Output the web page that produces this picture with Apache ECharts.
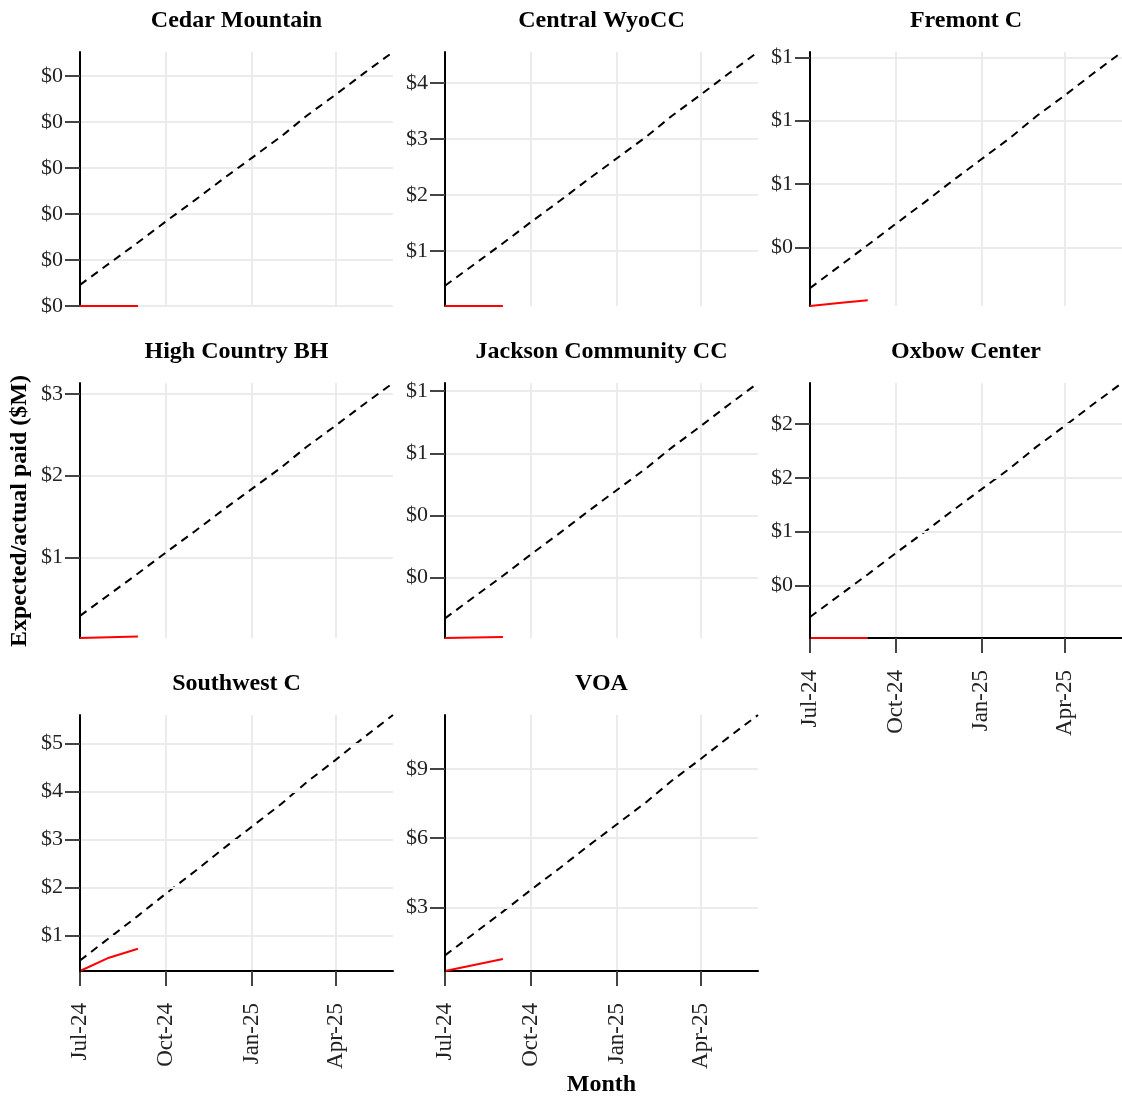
<!DOCTYPE html>
<html>
<head>
<meta charset="utf-8">
<script src="https://cdn.jsdelivr.net/npm/echarts@6/dist/echarts.min.js"></script>
<style>html,body{margin:0;padding:0;background:#fff;}</style>
</head>
<body>
<div id="main" style="width:1122px;height:1099px;"></div>
<script type="text/javascript">
var colleges = ['Cedar Mountain', 'Central WyoCC', 'Fremont C', 'High Country BH',
    'Jackson Community CC', 'Oxbow Center', 'Southwest C', 'VOA'];
var months = ['2024-07-01', '2024-08-01', '2024-09-01', '2024-10-01', '2024-11-01', '2024-12-01',
    '2025-01-01', '2025-02-01', '2025-03-01', '2025-04-01', '2025-05-01', '2025-06-01'];
var actualMonths = ['2024-07-01', '2024-08-01', '2024-09-01'];
var tickMonths = ['2024-07-01', '2024-10-01', '2025-01-01', '2025-04-01'];
var monthNames = ['Jan', 'Feb', 'Mar', 'Apr', 'May', 'Jun', 'Jul', 'Aug', 'Sep', 'Oct', 'Nov', 'Dec'];

// cumulative expected / actual paid, $M
var cedarExpected = [0.0092, 0.0184, 0.0276, 0.0368, 0.046, 0.0552, 0.0644, 0.0736, 0.0828, 0.092, 0.1012, 0.1104];
var cedarActual = [0, 0, 0];
var cedarTicks = [0, 0.02, 0.04, 0.06, 0.08, 0.1];

var wyoExpected = [0.379, 0.759, 1.138, 1.518, 1.897, 2.277, 2.656, 3.036, 3.415, 3.795, 4.174, 4.554];
var wyoActual = [0.018, 0.018, 0.019];
var wyoTicks = [1, 2, 3, 4];

var fremontExpected = [0.271, 0.339, 0.407, 0.474, 0.542, 0.61, 0.678, 0.746, 0.814, 0.881, 0.949, 1.017];
var fremontActual = [0.2145, 0.224, 0.233];
var fremontTicks = [0.4, 0.6, 0.8, 1.0];

var highExpected = [0.285, 0.544, 0.803, 1.061, 1.32, 1.579, 1.837, 2.096, 2.355, 2.614, 2.872, 3.131];
var highActual = [0.015, 0.025, 0.034];
var highTicks = [1, 2, 3];

var jacksonExpected = [0.069, 0.138, 0.206, 0.275, 0.344, 0.413, 0.482, 0.551, 0.619, 0.688, 0.757, 0.826];
var jacksonActual = [0.006, 0.008, 0.009];
var jacksonTicks = [0.2, 0.4, 0.6, 0.8];

var oxbowExpected = [0.205, 0.403, 0.601, 0.798, 0.996, 1.194, 1.392, 1.59, 1.787, 1.985, 2.183, 2.381];
var oxbowActual = [0.01, 0.01, 0.011];
var oxbowTicks = [0.5, 1, 1.5, 2];

var southwestExpected = [0.475, 0.94, 1.405, 1.87, 2.335, 2.8, 3.265, 3.73, 4.195, 4.66, 5.125, 5.59];
var southwestActual = [0.256, 0.533, 0.72];
var southwestTicks = [1, 2, 3, 4, 5];

var voaExpected = [0.943, 1.887, 2.83, 3.773, 4.717, 5.66, 6.603, 7.547, 8.49, 9.433, 10.377, 11.32];
var voaActual = [0.268, 0.53, 0.785];
var voaTicks = [3, 6, 9];

var expected = [cedarExpected, wyoExpected, fremontExpected, highExpected, jacksonExpected, oxbowExpected, southwestExpected, voaExpected];
var actual = [cedarActual, wyoActual, fremontActual, highActual, jacksonActual, oxbowActual, southwestActual, voaActual];
var yTicks = [cedarTicks, wyoTicks, fremontTicks, highTicks, jacksonTicks, oxbowTicks, southwestTicks, voaTicks];

// panel layout
var colLeft = [80, 445, 810];
var colWidth = [313, 313, 312];
var rowTop = [52, 383, 715];
var rowHeight = [254, 255, 256];
var bottomPanels = [5, 6, 7];

var serif = '"Liberation Serif", "Times New Roman", serif';

function toTime(s) {
    return +new Date(s + 'T00:00:00');
}
function dollars(v) {
    // round half to even, like the source labels ($0.5 -> $0, $1.5 -> $2)
    var f = Math.floor(v), d = v - f, r;
    if (Math.abs(d - 0.5) < 1e-9) r = (f % 2 === 0) ? f : f + 1;
    else r = Math.round(v);
    return '$' + r;
}
function monthLabel(v) {
    var d = new Date(v);
    return monthNames[d.getMonth()] + '-' + String(d.getFullYear()).slice(2);
}
function pairs(xs, ys) {
    return ys.map(function (y, k) { return [toTime(xs[k]), y]; });
}

var xTicks = tickMonths.map(toTime);
var chart = echarts.init(document.getElementById('main'));
var grids = [], xAxes = [], yAxes = [], series = [], graphics = [];

colleges.forEach(function (name, i) {
    var row = Math.floor(i / 3), col = i % 3;
    var isBottom = bottomPanels.indexOf(i) >= 0;
    grids.push({
        left: colLeft[col], top: rowTop[row], width: colWidth[col], height: rowHeight[row],
        containLabel: false, outerBoundsMode: 'none'
    });
    xAxes.push({
        type: 'value', gridIndex: i, min: toTime(months[0]), max: toTime(months[months.length - 1]),
        z: isBottom ? 3 : 0,
        axisLine: { show: isBottom, onZero: false, lineStyle: { color: '#000', width: 2 } },
        axisTick: { show: isBottom, customValues: xTicks, length: 15, lineStyle: { color: '#444', width: 2 } },
        axisLabel: {
            show: isBottom, customValues: xTicks, rotate: 90, margin: 32,
            formatter: monthLabel, fontFamily: serif, fontSize: 23, color: '#222'
        },
        splitLine: { show: true, lineStyle: { color: '#ebebeb', width: 2 } }
    });
    yAxes.push({
        type: 'value', gridIndex: i, min: 'dataMin', max: 'dataMax', scale: true,
        z: isBottom ? 4 : 0,
        axisLine: { show: true, onZero: false, lineStyle: { color: '#000', width: 2 } },
        axisTick: { show: true, customValues: yTicks[i], length: 15, lineStyle: { color: '#444', width: 2 } },
        axisLabel: {
            customValues: yTicks[i], margin: 17, formatter: dollars,
            fontFamily: serif, fontSize: 22, color: '#222'
        },
        splitLine: { show: true, lineStyle: { color: '#ebebeb', width: 2 } }
    });
    series.push({
        name: name + ' expected', type: 'line', xAxisIndex: i, yAxisIndex: i,
        data: pairs(months, expected[i]), showSymbol: false, silent: true,
        lineStyle: { color: '#000', width: 2, type: [8, 6] }
    });
    series.push({
        name: name + ' actual', type: 'line', xAxisIndex: i, yAxisIndex: i,
        data: pairs(actualMonths, actual[i]), showSymbol: false, silent: true,
        lineStyle: { color: '#ff0000', width: 2 }
    });
    graphics.push({
        type: 'text', x: colLeft[col] + colWidth[col] / 2, y: rowTop[row] - 31.5,
        style: { text: name, align: 'center', verticalAlign: 'middle', font: 'bold 24px ' + serif, fill: '#000' }
    });
});

graphics.push({
    type: 'text', x: 20, y: 511, rotation: Math.PI / 2,
    style: { text: 'Expected/actual paid ($M)', align: 'center', verticalAlign: 'middle', font: 'bold 24px ' + serif, fill: '#000' }
});
graphics.push({
    type: 'text', x: colLeft[1] + colWidth[1] / 2, y: 1085,
    style: { text: 'Month', align: 'center', verticalAlign: 'middle', font: 'bold 24px ' + serif, fill: '#000' }
});

chart.setOption({
    animation: false,
    backgroundColor: '#fff',
    grid: grids,
    xAxis: xAxes,
    yAxis: yAxes,
    series: series,
    graphic: graphics
});
</script>
</body>
</html>
